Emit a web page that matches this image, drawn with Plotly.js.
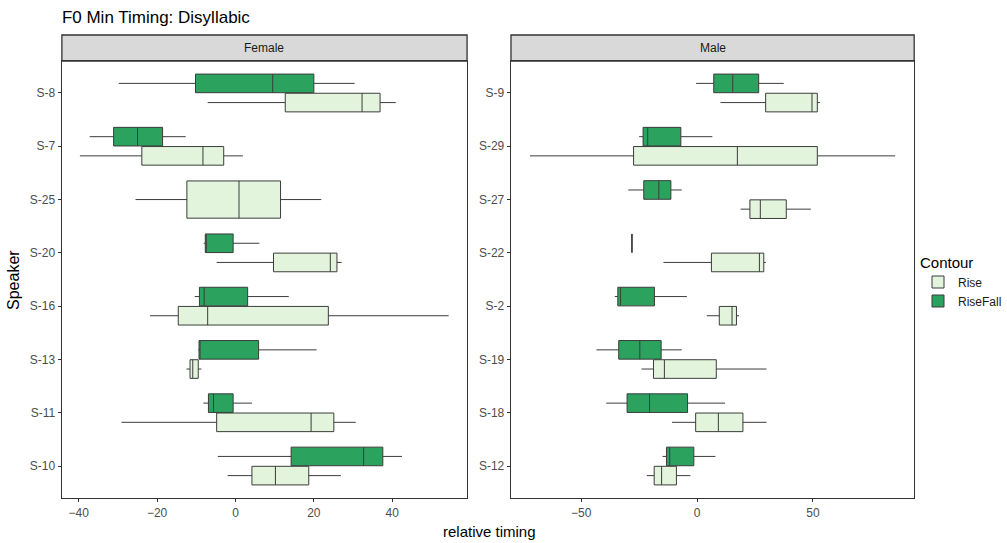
<!DOCTYPE html>
<html>
<head>
<meta charset="utf-8">
<script src="https://cdn.plot.ly/plotly-3.0.1.min.js"></script>
<style>html,body{margin:0;padding:0;background:#fff;}#chart{width:1007px;height:543px;}</style>
</head>
<body>
<div id="chart"></div>
<script>
// ---- Data ----
const femaleSpeakers = ["S-8","S-7","S-25","S-20","S-16","S-13","S-11","S-10"];
const maleSpeakers   = ["S-9","S-29","S-27","S-22","S-2","S-19","S-18","S-12"];
const femaleTicks = [-40,-20,0,20,40];
const maleTicks = [-50,0,50];

// Female, Rise (S-25 drawn separately: only one contour)
const fRiseSpk   = ["S-8","S-7","S-20","S-16","S-13","S-11","S-10"];
const fRiseLow   = [-7.1,-39.7,-4.8,-21.8,-12.5,-29.1,-2.0];
const fRiseQ1    = [12.7,-23.9, 9.7,-14.6,-11.6, -4.8, 4.2];
const fRiseMed   = [32.3, -8.3,24.2, -7.1,-10.9, 19.3,10.2];
const fRiseQ3    = [36.9, -3.0,25.9, 23.7, -9.5, 25.1,18.7];
const fRiseHigh  = [40.9,  1.9,27.1, 54.4, -8.7, 30.7,26.9];

const fRiseSoloSpk  = ["S-25"];
const fRiseSoloLow  = [-25.5];
const fRiseSoloQ1   = [-12.4];
const fRiseSoloMed  = [0.9];
const fRiseSoloQ3   = [11.5];
const fRiseSoloHigh = [21.9];

// Female, RiseFall
const fRFSpk  = ["S-8","S-7","S-20","S-16","S-13","S-11","S-10"];
const fRFLow  = [-29.8,-37.2,-8.1,-10.4,-9.5,-8.2,-4.5];
const fRFQ1   = [-10.2,-31.1,-7.7, -9.2,-9.3,-6.9,14.2];
const fRFMed  = [  9.5,-25.0,-7.5, -8.0,-9.3,-5.6,32.7];
const fRFQ3   = [ 20.0,-18.6,-0.6,  3.1, 5.9,-0.6,37.6];
const fRFHigh = [ 30.4,-12.7, 6.1, 13.6,20.7, 4.2,42.5];

// Male, Rise
const mRiseSpk  = ["S-9","S-29","S-27","S-22","S-2","S-19","S-18","S-12"];
const mRiseLow  = [10.1,-72.1,18.8,-14.5, 4.2,-24.0,-10.8,-21.7];
const mRiseQ1   = [29.6,-27.4,22.8,  6.2, 9.6,-18.8, -0.6,-18.5];
const mRiseMed  = [49.6, 17.4,27.3, 26.9,15.1,-14.1,  9.2,-15.3];
const mRiseQ3   = [51.9, 51.9,38.5, 28.8,17.0,  8.3, 19.8, -8.9];
const mRiseHigh = [53.0, 85.5,49.1, 29.7,18.1, 30.0, 30.0, -2.9];

// Male, RiseFall
const mRFSpk  = ["S-9","S-29","S-27","S-22","S-2","S-19","S-18","S-12"];
const mRFLow  = [-0.4,-25.0,-29.7,-28.1,-35.5,-43.4,-39.2,-14.9];
const mRFQ1   = [ 7.2,-23.3,-23.0,-28.1,-34.2,-33.8,-30.2,-13.2];
const mRFMed  = [15.4,-21.3,-16.5,-28.1,-33.0,-24.7,-20.5,-11.8];
const mRFQ3   = [26.6, -7.0,-11.3,-28.1,-18.4,-15.5, -4.1, -1.4];
const mRFHigh = [37.4,  6.6, -6.6,-28.1, -4.4, -6.6, 12.1,  7.9];

// ---- Styling ----
const riseFill = "#e2f4dc";
const rfFill = "#2ca25f";
const edge = "#3c3c3c";
const FONT = "Liberation Sans, Arial, sans-serif";

function box(name, spk, lo, q1, med, q3, hi, fill, xa, ya, showleg, rank, align) {
  return {
    type: "box", orientation: "h", name: name, legendgroup: name,
    showlegend: showleg, legendrank: rank,
    alignmentgroup: align, offsetgroup: name,
    y: spk, lowerfence: lo, q1: q1, median: med, q3: q3, upperfence: hi,
    fillcolor: fill, line: {color: edge, width: 1}, whiskerwidth: 0,
    boxpoints: false, hoverinfo: "skip", xaxis: xa, yaxis: ya
  };
}

const traces = [
  box("RiseFall", fRFSpk, fRFLow, fRFQ1, fRFMed, fRFQ3, fRFHigh, rfFill, "x", "y", true, 2, "female"),
  box("Rise", fRiseSpk, fRiseLow, fRiseQ1, fRiseMed, fRiseQ3, fRiseHigh, riseFill, "x", "y", true, 1, "female"),
  box("Rise", fRiseSoloSpk, fRiseSoloLow, fRiseSoloQ1, fRiseSoloMed, fRiseSoloQ3, fRiseSoloHigh, riseFill, "x", "y3", false, 1, "femaleSolo"),
  box("RiseFall", mRFSpk, mRFLow, mRFQ1, mRFMed, mRFQ3, mRFHigh, rfFill, "x2", "y2", false, 2, "male"),
  box("Rise", mRiseSpk, mRiseLow, mRiseQ1, mRiseMed, mRiseQ3, mRiseHigh, riseFill, "x2", "y2", false, 1, "male")
];

const W = 1007, H = 543;
const px = v => v / W;
const py = v => 1 - v / H;
const fDom = [px(62), px(468)];
const mDom = [px(512), px(916)];
const yDom = [py(498), py(61)];
const stripTop = py(35);

const xBase = {
  showgrid: false, zeroline: false, showline: true, mirror: true,
  linecolor: "#333333", linewidth: 1.3, ticks: "outside", ticklen: 3,
  tickcolor: "#333333", tickfont: {family: FONT, size: 12, color: "#4d4d4d"},
  fixedrange: true
};
const yBase = Object.assign({}, xBase, {type: "category", ticklen: 3});

const layout = {
  width: W, height: H,
  margin: {l: 0, r: 0, t: 0, b: 0},
  paper_bgcolor: "#ffffff", plot_bgcolor: "#ffffff",
  font: {family: FONT, color: "#000"},
  boxmode: "group", boxgap: 0.28, boxgroupgap: 0.03,
  title: {text: "F0 Min Timing: Disyllabic", x: px(62), xanchor: "left", xref: "paper",
          y: py(17), yanchor: "middle", yref: "paper",
          font: {family: FONT, size: 17, color: "#000"}},
  xaxis: Object.assign({}, xBase, {domain: fDom, anchor: "y", range: [-44.3, 59.1], tickvals: femaleTicks}),
  yaxis: Object.assign({}, yBase, {domain: yDom, anchor: "x", categoryorder: "array",
          categoryarray: femaleSpeakers, range: [7.6, -0.6]}),
  yaxis3: {type: "category", overlaying: "y", visible: false, categoryorder: "array",
          categoryarray: femaleSpeakers, range: [7.6, -0.6], fixedrange: true},
  xaxis2: Object.assign({}, xBase, {domain: mDom, anchor: "y2", range: [-80.3, 93.7], tickvals: maleTicks}),
  yaxis2: Object.assign({}, yBase, {domain: yDom, anchor: "x2", categoryorder: "array",
          categoryarray: maleSpeakers, range: [7.6, -0.6]}),
  legend: {x: px(920), xanchor: "left", y: py(248), yanchor: "top",
           title: {text: "Contour", font: {family: FONT, size: 15, color: "#000"}},
           font: {family: FONT, size: 12, color: "#1a1a1a"},
           traceorder: "normal", tracegroupgap: 0, itemwidth: 30},
  shapes: [
    {type: "rect", xref: "paper", yref: "paper", x0: fDom[0], x1: fDom[1], y0: yDom[1], y1: stripTop,
     fillcolor: "#d9d9d9", line: {color: "#333333", width: 1.3}, layer: "below"},
    {type: "rect", xref: "paper", yref: "paper", x0: mDom[0], x1: mDom[1], y0: yDom[1], y1: stripTop,
     fillcolor: "#d9d9d9", line: {color: "#333333", width: 1.3}, layer: "below"}
  ],
  annotations: [
    {text: "Female", xref: "paper", yref: "paper", x: (fDom[0]+fDom[1])/2, y: (yDom[1]+stripTop)/2,
     showarrow: false, font: {family: FONT, size: 12, color: "#1a1a1a"}, xanchor: "center", yanchor: "middle"},
    {text: "Male", xref: "paper", yref: "paper", x: (mDom[0]+mDom[1])/2, y: (yDom[1]+stripTop)/2,
     showarrow: false, font: {family: FONT, size: 12, color: "#1a1a1a"}, xanchor: "center", yanchor: "middle"},
    {text: "relative timing", xref: "paper", yref: "paper", x: px(490), y: py(531),
     showarrow: false, font: {family: FONT, size: 15, color: "#000"}, xanchor: "center", yanchor: "middle"},
    {text: "Speaker", xref: "paper", yref: "paper", x: px(13), y: py(280), textangle: -90,
     showarrow: false, font: {family: FONT, size: 16, color: "#000"}, xanchor: "center", yanchor: "middle"}
  ]
};

Plotly.newPlot("chart", traces, layout, {staticPlot: true, displayModeBar: false});
</script>
</body>
</html>
